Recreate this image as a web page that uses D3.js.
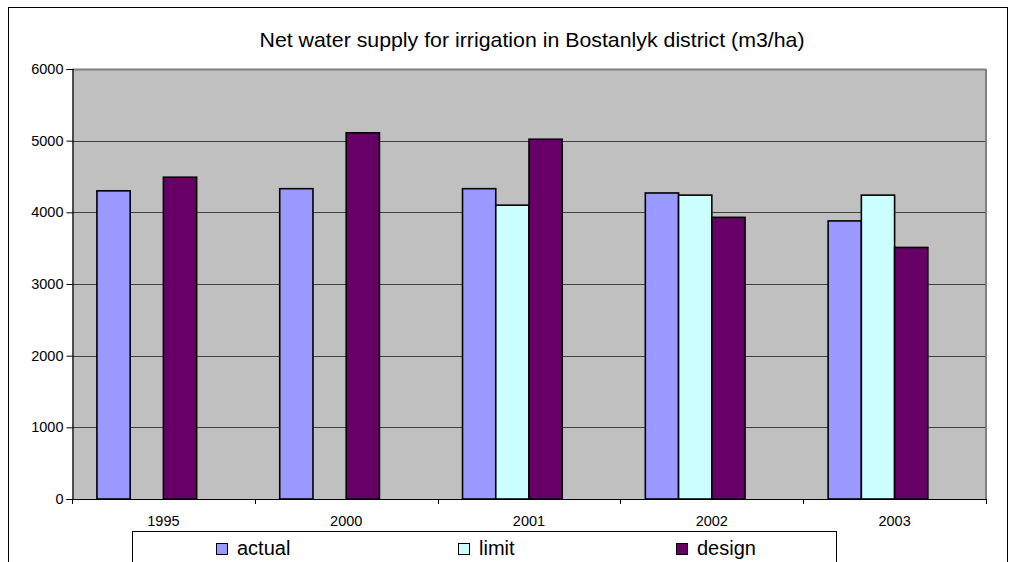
<!DOCTYPE html>
<html>
<head>
<meta charset="utf-8">
<script src="https://cdn.jsdelivr.net/npm/d3@7"></script>
<style>
  html, body { margin: 0; padding: 0; background: #fff; }
  svg { display: block; font-family: "Liberation Sans", Arial, sans-serif; }
</style>
</head>
<body>
<svg id="chart" width="1017" height="562"></svg>
<script>
const title = "Net water supply for irrigation in Bostanlyk district (m3/ha)";
const categories = ["1995", "2000", "2001", "2002", "2003"];
const seriesNames = ["actual", "limit", "design"];
const actual = [4300, 4330, 4330, 4270, 3880];
const limit  = [null, null, 4100, 4240, 4240];
const design = [4490, 5110, 5020, 3930, 3510];
const yTicks = [0, 1000, 2000, 3000, 4000, 5000, 6000];
const colors = ["#9999FF", "#CCFFFF", "#660066"];

const seriesValues = [actual, limit, design];
const svg = d3.select("#chart");
const FONT = "'Liberation Sans', Arial, sans-serif";

const plot = { left: 72, right: 986, top: 69, bottom: 499 };

// outer chart border
svg.append("rect")
  .attr("x", 8.5).attr("y", 7.5)
  .attr("width", 999).attr("height", 600)
  .attr("fill", "#fff").attr("stroke", "#000").attr("stroke-width", 1);

// title
svg.append("text")
  .attr("x", (plot.left + plot.right) / 2 + 3)
  .attr("y", 47)
  .attr("text-anchor", "middle")
  .attr("font-family", FONT)
  .attr("font-size", 21)
  .attr("textLength", 545)
  .attr("lengthAdjust", "spacingAndGlyphs")
  .attr("fill", "#000")
  .text(title);

const y = d3.scaleLinear().domain([0, 6000]).range([plot.bottom, plot.top]);
const x0 = d3.scaleBand().domain(categories).range([plot.left, plot.right]).paddingInner(0).paddingOuter(0);
// four slots per category (the fourth is an empty slot, as in the source chart)
const x1 = d3.scaleBand().domain([0, 1, 2, 3]).range([0, x0.bandwidth()]).paddingInner(0).paddingOuter(0.75);

// plot background
svg.append("rect")
  .attr("x", plot.left).attr("y", plot.top)
  .attr("width", plot.right - plot.left).attr("height", plot.bottom - plot.top)
  .attr("fill", "#C0C0C0");

// gridlines
svg.append("g")
  .selectAll("line")
  .data(yTicks.filter(d => d > 0 && d < 6000))
  .join("line")
  .attr("x1", plot.left).attr("x2", plot.right)
  .attr("y1", d => Math.round(y(d)) + 0.5).attr("y2", d => Math.round(y(d)) + 0.5)
  .attr("stroke", "#404040").attr("stroke-width", 1.2);

// top and right plot borders (gray)
svg.append("line")
  .attr("x1", plot.left).attr("x2", plot.right)
  .attr("y1", plot.top + 0.5).attr("y2", plot.top + 0.5)
  .attr("stroke", "#808080").attr("stroke-width", 2);
svg.append("line")
  .attr("x1", plot.right).attr("x2", plot.right)
  .attr("y1", plot.top).attr("y2", plot.bottom)
  .attr("stroke", "#808080").attr("stroke-width", 2);

// bars
const barData = [];
categories.forEach((c, i) => {
  seriesValues.forEach((vals, s) => {
    if (vals[i] != null) barData.push({ cat: c, s: s, v: vals[i] });
  });
});
svg.append("g")
  .selectAll("rect")
  .data(barData)
  .join("rect")
  .attr("x", d => x0(d.cat) + x1(d.s))
  .attr("y", d => y(d.v))
  .attr("width", x1.bandwidth())
  .attr("height", d => y(0) - y(d.v))
  .attr("fill", d => colors[d.s])
  .attr("stroke", "#000")
  .attr("stroke-width", 1.6);

// y axis
const yAxis = svg.append("g")
  .attr("transform", `translate(${plot.left + 0.5},0)`)
  .call(d3.axisLeft(y).tickValues(yTicks).tickSize(6).tickPadding(3).tickFormat(d3.format("d")));
yAxis.attr("font-family", FONT);
yAxis.select(".domain").attr("stroke", "#000").attr("stroke-width", 1.2);
yAxis.selectAll(".tick line").attr("stroke", "#000");
yAxis.selectAll(".tick text")
  .attr("font-size", 14.5)
  .attr("font-family", FONT)
  .attr("fill", "#000");

// x axis line
svg.append("line")
  .attr("x1", plot.left).attr("x2", plot.right)
  .attr("y1", plot.bottom + 0.5).attr("y2", plot.bottom + 0.5)
  .attr("stroke", "#000").attr("stroke-width", 1.2);

// x ticks at category boundaries
const boundaries = categories.map(c => x0(c)).concat([plot.right]);
svg.append("g")
  .selectAll("line")
  .data(boundaries)
  .join("line")
  .attr("x1", d => Math.round(d) + 0.5).attr("x2", d => Math.round(d) + 0.5)
  .attr("y1", plot.bottom).attr("y2", plot.bottom + 5)
  .attr("stroke", "#000").attr("stroke-width", 1);

// category labels
svg.append("g")
  .selectAll("text")
  .data(categories)
  .join("text")
  .attr("x", d => x0(d) + x0.bandwidth() / 2)
  .attr("y", 526)
  .attr("text-anchor", "middle")
  .attr("font-family", FONT)
  .attr("font-size", 14.5)
  .attr("fill", "#000")
  .text(d => d);

// legend
svg.append("rect")
  .attr("x", 132.5).attr("y", 531.5)
  .attr("width", 704).attr("height", 60)
  .attr("fill", "#fff").attr("stroke", "#000").attr("stroke-width", 1);

const legendX = [216, 458, 676];
const lg = svg.append("g")
  .selectAll("g")
  .data(seriesNames)
  .join("g")
  .attr("transform", (d, i) => `translate(${legendX[i]},0)`);
lg.append("rect")
  .attr("x", 0.5).attr("y", 543.5)
  .attr("width", 11).attr("height", 11)
  .attr("fill", (d, i) => colors[i])
  .attr("stroke", "#000").attr("stroke-width", 1);
lg.append("text")
  .attr("x", 21).attr("y", 555)
  .attr("font-family", FONT)
  .attr("font-size", 20)
  .attr("fill", "#000")
  .text(d => d);
</script>
</body>
</html>
